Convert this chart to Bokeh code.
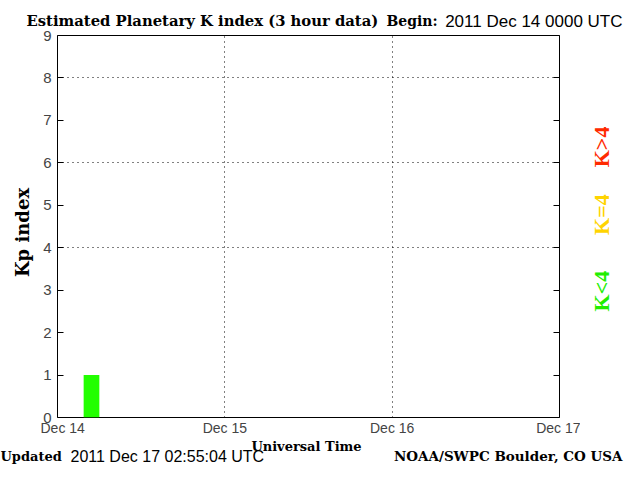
from bokeh.plotting import figure
from bokeh.models import LinearAxis, FixedTicker, Range1d
from bokeh.layouts import column, row
from bokeh.core.properties import value
from bokeh.embed import file_html
from bokeh.resources import INLINE
import math

# Data
period_start_hours = [3]
kp_values = [1]
day_ticks = [0, 24, 48, 72]
day_labels = ["Dec 14", "Dec 15", "Dec 16", "Dec 17"]
kp_ticks = [0, 1, 2, 3, 4, 5, 6, 7, 8, 9]
grid_levels = [4, 6, 8]
title_text = "Estimated Planetary K index (3 hour data)"
begin_text = "2011 Dec 14 0000 UTC"
updated_text = "2011 Dec 17 02:55:04 UTC"
credit_text = "NOAA/SWPC Boulder, CO USA"
x_title = "Universal Time"
y_title = "Kp index"
k_labels = ["K<4", "K=4", "K>4"]
k_colors = ["#22ee00", "#ffd400", "#ff2a00"]

SERIF = "DejaVu Serif"
KSERIF = "Liberation Serif"
SANS = "Liberation Sans"

TOTAL_W, TOTAL_H = 624, 464
TOP_H = 30
FRAME_TOP, FRAME_BOTTOM = 35, 419
BORDER_TOP = FRAME_TOP - TOP_H
BORDER_BOTTOM = 19
MID_H = BORDER_TOP + (FRAME_BOTTOM - FRAME_TOP) + BORDER_BOTTOM
MID_BOTTOM = TOP_H + MID_H
BOT_H = TOTAL_H - MID_BOTTOM
LEFT_W = 40
RIGHT_W = 44
MAIN_W = TOTAL_W - LEFT_W - RIGHT_W


def strip(w, h, btop=0, bbot=0):
    s = figure(width=w, height=h, output_backend="svg", toolbar_location=None,
               x_range=Range1d(0, w), y_range=Range1d(0, h - btop - bbot),
               min_border_left=0, min_border_right=0,
               min_border_top=btop, min_border_bottom=bbot,
               x_axis_location=None, y_axis_location=None)
    s.outline_line_color = None
    s.grid.visible = False
    s.background_fill_color = "white"
    s.border_fill_color = "white"
    return s


def txt(s, y0, x, y, text, font, size, bold=False, color="black",
        align="left", angle=0.0):
    # y0: screen y of the strip frame bottom; y: screen y of the text middle
    s.text(x=[x], y=[y0 - y], text=[text], text_font=value(font),
           text_font_size=value(size),
           text_font_style="bold" if bold else "normal",
           text_color=color, text_align=align, text_baseline="middle",
           angle=angle)


# top strip
top = strip(TOTAL_W, TOP_H)
txt(top, TOP_H, 26, 19.5, title_text, SERIF, "14.8px", bold=True)
txt(top, TOP_H, 386, 20.5, "Begin:", SERIF, "14px", bold=True)
txt(top, TOP_H, 622, 20.5, begin_text, SANS, "17px", align="right")

# main plot
p = figure(width=MAIN_W, height=MID_H, output_backend="svg", toolbar_location=None,
           x_range=Range1d(0, 72), y_range=Range1d(0, 9),
           min_border_left=56 - LEFT_W, min_border_right=LEFT_W + MAIN_W - 559,
           min_border_top=BORDER_TOP, min_border_bottom=BORDER_BOTTOM)
p.outline_line_color = "black"
p.background_fill_color = "white"
p.border_fill_color = "white"

centers = [s + 1.875 for s in period_start_hours]
p.vbar(x=centers, top=kp_values, bottom=0, width=2.25, fill_color="#22ff00",
       line_color=None)

xa = p.xaxis[0]
xa.ticker = FixedTicker(ticks=day_ticks)
xa.major_label_overrides = {t: l for t, l in zip(day_ticks, day_labels)}
xa.major_label_text_font = SANS
xa.major_label_text_font_size = "14px"
xa.major_label_standoff = 2
xa.major_tick_in = 0
xa.major_tick_out = 0
xa.minor_tick_line_color = None
xa.axis_line_color = None

ya = p.yaxis[0]
ya.ticker = FixedTicker(ticks=kp_ticks)
ya.major_label_text_font = SANS
ya.major_label_text_font_size = "15px"
ya.major_label_standoff = 6
ya.major_tick_in = 6
ya.major_tick_out = 0
ya.minor_tick_line_color = None
ya.axis_line_color = None

ra = LinearAxis(ticker=FixedTicker(ticks=kp_ticks), major_label_text_alpha=0,
                major_label_text_font_size="1px",
                major_tick_in=6, major_tick_out=0, minor_tick_line_color=None,
                axis_line_color=None)
p.add_layout(ra, "right")

p.xgrid.ticker = FixedTicker(ticks=[24, 48])
p.xgrid.grid_line_color = "black"
p.xgrid.grid_line_dash = "1 4"
p.ygrid.ticker = FixedTicker(ticks=grid_levels)
p.ygrid.grid_line_color = "black"
p.ygrid.grid_line_dash = "1 4"

# left strip (frame aligned with the main frame)
left = strip(LEFT_W, MID_H, BORDER_TOP, BORDER_BOTTOM)
txt(left, FRAME_BOTTOM, 22, 233, y_title, SERIF, "18px", bold=True,
    align="center", angle=math.pi / 2)

# right strip (frame aligned with the main frame)
right = strip(RIGHT_W, MID_H, BORDER_TOP, BORDER_BOTTOM)
for lbl, col, yc in zip(k_labels, k_colors, [292, 215, 147]):
    txt(right, FRAME_BOTTOM, 601 - LEFT_W - MAIN_W, yc, lbl, KSERIF, "22px",
        bold=True, color=col, align="center", angle=math.pi / 2)

# bottom strip
bot = strip(TOTAL_W, BOT_H)
txt(bot, TOTAL_H, 306, 445.5, x_title, SERIF, "13px", bold=True, align="center")
txt(bot, TOTAL_H, 0, 455.5, "Updated", SERIF, "13px", bold=True)
txt(bot, TOTAL_H, 70, 455.5, updated_text, SANS, "16px")
txt(bot, TOTAL_H, 622, 455.5, credit_text, SERIF, "13.5px", bold=True, align="right")

layout = column(top, row(left, p, right, spacing=0), bot, spacing=0)
open("out.html", "w").write(file_html(layout, INLINE))
